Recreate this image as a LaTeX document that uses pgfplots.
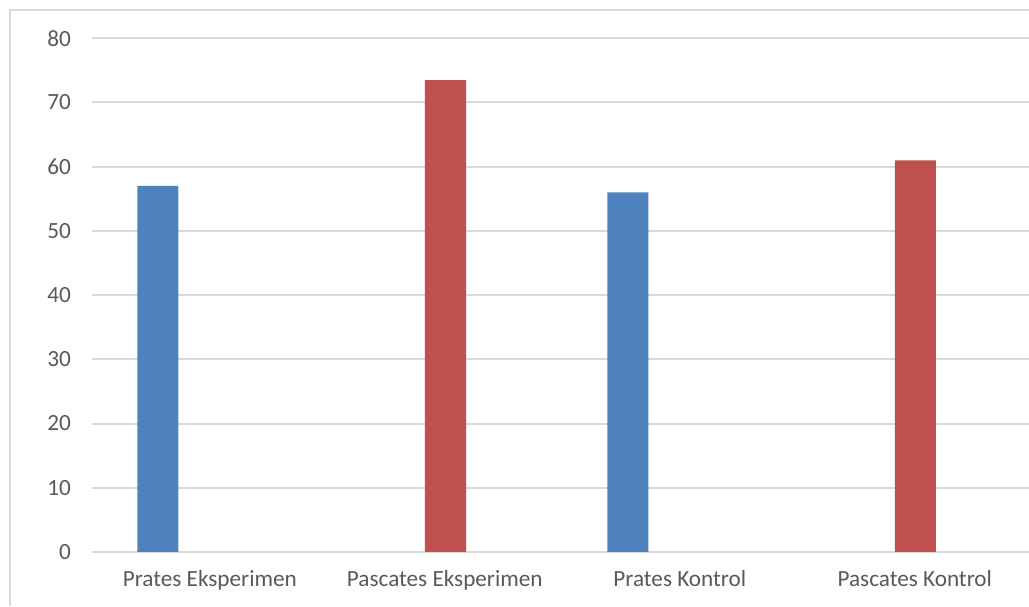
\documentclass[border=0pt]{standalone}
\usepackage{pgfplots}
\pgfplotsset{compat=1.18}
\usepackage{fontspec}
\setmainfont{Carlito}
\definecolor{barblue}{HTML}{4F81BD}
\definecolor{barred}{HTML}{C0504D}
\definecolor{gridgray}{HTML}{D9D9D9}
\definecolor{labgray}{HTML}{595959}
\begin{document}
\begin{tikzpicture}[x=1pt,y=1pt]
\useasboundingbox (0,0) rectangle (514.5,303);
\draw[gridgray, line width=0.6pt] (5,0) -- (5,298) -- (514.5,298);
\begin{axis}[
  at={(46.15pt,27.05pt)}, anchor=south west,
  scale only axis, width=470pt, height=256.8pt,
  xmin=-0.5, xmax=3.5, ymin=0, ymax=80,
  ytick={0,10,...,80},
  xtick={0,1,2,3},
  xticklabels={Prates Eksperimen, Pascates Eksperimen, Prates Kontrol, Pascates Kontrol},
  ymajorgrids, major grid style={gridgray, line width=1pt},
  axis line style={draw=none}, tick style={draw=none},
  font=\fontsize{11.6}{13}\selectfont,
  ticklabel style={text=labgray},
  /pgf/number format/assume math mode=true,
  yticklabel style={anchor=east, inner sep=0pt, xshift=-10.5pt},
  xticklabel style={anchor=north, inner sep=0pt, yshift=-5pt},
  ybar, bar width=20.5pt,
]
\addplot[fill=barblue, draw=none, bar shift=-26pt] coordinates {(0,57) (2,56)};
\addplot[fill=barred, draw=none, bar shift=0.35pt] coordinates {(1,73.5) (3,61)};
\end{axis}
\end{tikzpicture}
\end{document}
